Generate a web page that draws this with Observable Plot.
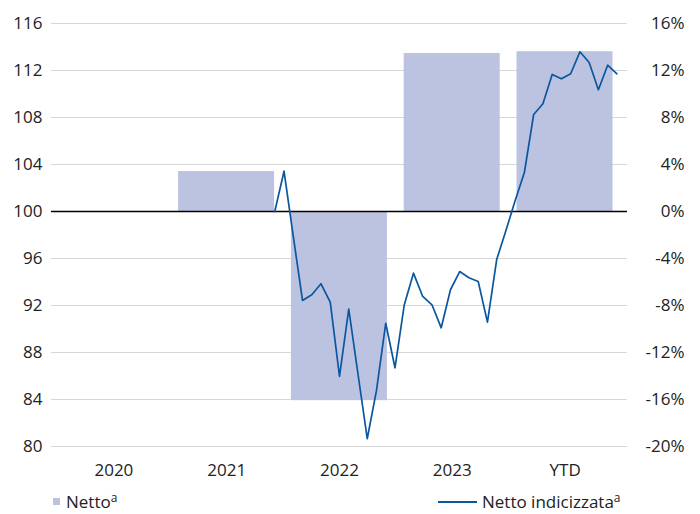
<!DOCTYPE html>
<html>
<head>
<meta charset="utf-8">
<script src="https://cdn.jsdelivr.net/npm/d3@7"></script>
<script src="https://cdn.jsdelivr.net/npm/@observablehq/plot@0.6"></script>
<style>
  html, body { margin: 0; padding: 0; background: #fff; }
  body { width: 700px; height: 514px; overflow: hidden; font-family: "Open Sans", "Noto Sans", sans-serif; }
  #chart svg { display: block; }
  .legend { position: relative; height: 30px; font-size: 17px; color: #222; }
  .legend .item { position: absolute; top: 6px; display: flex; align-items: center; white-space: nowrap; }
  .legend .sup { font-size: 12px; position: relative; top: -4px; }
</style>
</head>
<body>
<div id="chart"></div>
<div class="legend">
  <div class="item" style="left:53px"><span style="display:inline-block;width:7px;height:7px;background:#bcc3e0;margin-right:6px"></span><span>Netto</span><span class="sup">a</span></div>
  <div class="item" style="left:438px"><span style="display:inline-block;width:39px;height:2px;background:#0b56a0;margin-right:5px"></span><span>Netto indicizzata</span><span class="sup">a</span></div>
</div>
<script>
// Categories (bars) and their net values in %
const categories = ["2020", "2021", "2022", "2023", "YTD"];
const nettoPct = [null, 3.4, -16.1, 13.45, 13.6];

// Indexed line (base 100), monthly points placed in 61 slots across the axis
const slotCount = 61;
const lineStartSlot = 23;
const indexValues = [
  100.0, 103.43, 97.9, 92.43, 92.91, 93.85, 92.28, 85.96, 91.69, 86.17,
  80.66, 84.77, 90.49, 86.70, 92.04, 94.75, 92.77, 92.06, 90.10, 93.34,
  94.89, 94.36, 94.04, 90.58, 95.91, 98.38, 100.94, 103.34, 108.26, 109.17,
  111.66, 111.29, 111.72, 113.59, 112.68, 110.36, 112.45, 111.72
];

// Axis ticks
const leftTicks = [80, 84, 88, 92, 96, 100, 104, 108, 112, 116];
const rightTickLabels = ["-20%", "-16%", "-12%", "-8%", "-4%", "0%", "4%", "8%", "12%", "16%"];

const bars = categories.map((c, i) => ({cat: c, i, v: nettoPct[i]})).filter(d => d.v != null);
const linePts = indexValues.map((v, j) => ({pos: (lineStartSlot + j + 0.5) * categories.length / slotCount, v}));
const rightTicks = leftTicks.map((t, i) => ({t, label: rightTickLabels[i]}));

const chart = Plot.plot({
  width: 700,
  height: 484,
  marginLeft: 51,
  marginRight: 73,
  marginTop: 23,
  marginBottom: 38,
  style: {fontFamily: "'Open Sans', 'Noto Sans', sans-serif", fontSize: "17px", color: "#222"},
  x: {domain: [-0.053, categories.length + 0.053], axis: null, label: null},
  y: {domain: [80, 116], axis: null, label: null},
  marks: [
    Plot.ruleY(leftTicks.filter(d => d !== 100), {stroke: "#d6d6d6", strokeWidth: 1}),
    Plot.rect(bars, {x1: d => d.i, x2: d => d.i + 1, y1: 100, y2: d => 100 + d.v, fill: "#bcc3e0", insetLeft: 8.3, insetRight: 8.5}),
    Plot.ruleY([100], {stroke: "#000", strokeWidth: 1.5}),
    Plot.line(linePts, {x: "pos", y: "v", stroke: "#0b56a0", strokeWidth: 1.7}),
    Plot.axisY({anchor: "left", ticks: leftTicks, tickSize: 0, tickPadding: 9, fontSize: 17, label: null}),
    Plot.text(rightTicks, {y: "t", text: "label", frameAnchor: "right", textAnchor: "end", dx: 57, fontSize: 17, fill: "#222"}),
    Plot.axisX({ticks: categories.map((c, i) => i + 0.5), tickFormat: d => categories[Math.round(d - 0.5)], tickSize: 0, tickPadding: 17, fontSize: 17, label: null})
  ]
});
document.getElementById("chart").append(chart);
</script>
</body>
</html>
